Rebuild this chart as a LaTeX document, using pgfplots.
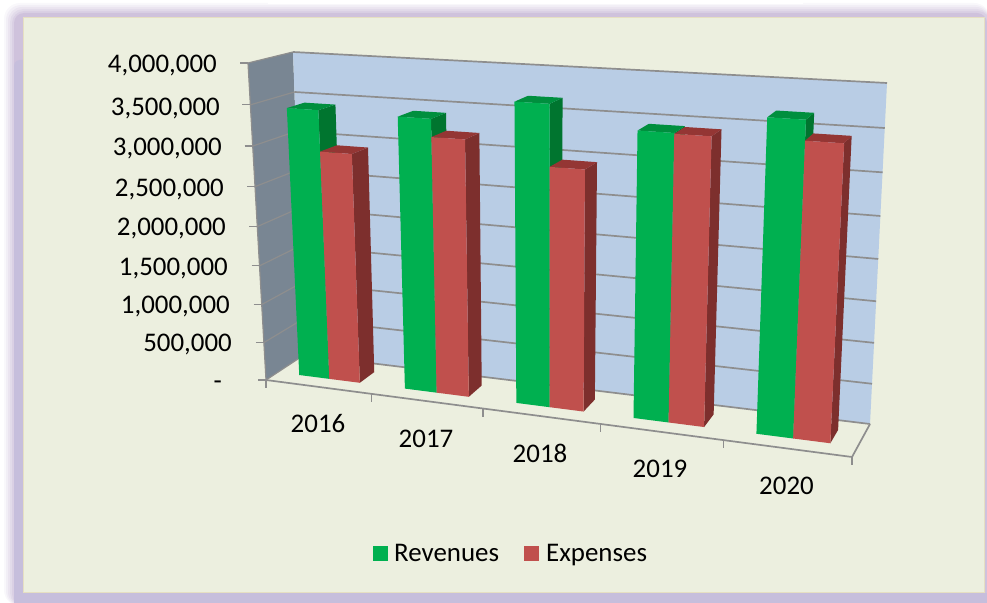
\documentclass[border=0pt]{standalone}
\usepackage{fontspec}
\setmainfont{Carlito}
\usepackage{pgfplots}
\pgfplotsset{compat=1.18}

\definecolor{panel}{HTML}{ECEFDF}
\definecolor{panelline}{HTML}{E6DFC2}
\definecolor{halo}{HTML}{C6BEDC}
\definecolor{halotop}{HTML}{CFC2DC}
\definecolor{backwall}{HTML}{B9CDE5}
\definecolor{sidewall}{HTML}{798693}
\definecolor{gridc}{HTML}{8E8E8E}
\definecolor{revF}{HTML}{00B050}
\definecolor{revS}{HTML}{00752F}
\definecolor{revT}{HTML}{008F3E}
\definecolor{expF}{HTML}{C0504D}
\definecolor{expS}{HTML}{7D2F2D}
\definecolor{expT}{HTML}{943634}

% box corners in image pixels, u = 0..5 along categories, d = 0..1 into the
% chart, v = value in thousands; the warps stand in for the perspective
\newcommand{\proj}[3]{%
  \pgfmathsetmacro\Pt{(#1)/5}%
  \pgfmathsetmacro\Pu{\Pt-0.124*\Pt*(1-\Pt)}%
  \pgfmathsetmacro\Pv{(#3)/4000}%
  \pgfmathsetmacro\Pw{\Pv-0.064*\Pv*(1-\Pv)}%
  \pgfmathsetmacro\Pd{#2}%
  % floor and ceiling of the box
  \pgfmathsetmacro\Bx{(1-\Pu)*((1-\Pd)*266+\Pd*304)+\Pu*((1-\Pd)*852+\Pd*870)}%
  \pgfmathsetmacro\By{(1-\Pu)*((1-\Pd)*380+\Pd*355)+\Pu*((1-\Pd)*457+\Pd*424)}%
  \pgfmathsetmacro\Tx{(1-\Pu)*((1-\Pd)*248+\Pd*293)+\Pu*((1-\Pd)*870+\Pd*887)}%
  \pgfmathsetmacro\Ty{(1-\Pu)*((1-\Pd)*63+\Pd*52)+\Pu*((1-\Pd)*99+\Pd*83)}%
  \pgfmathsetmacro\Px{(1-\Pw)*\Bx+\Pw*\Tx}%
  \pgfmathsetmacro\Py{(1-\Pw)*\By+\Pw*\Ty}%
}
\newcommand{\addpt}[3]{\proj{#1}{#2}{#3}\xdef\plist{\plist (\Px,\Py)}}
\newcommand{\quadface}[5]{%
  \gdef\plist{}\addpt#2\addpt#3\addpt#4\addpt#5%
  \edef\tmpplot{\noexpand\addplot[#1,draw=none] coordinates {\plist};}\tmpplot}
\newcommand{\gline}[3]{%
  \gdef\plist{}\addpt#2\addpt#3%
  \edef\tmpplot{\noexpand\addplot[#1] coordinates {\plist};}\tmpplot}
% value line with a stub to the left of the front edge
\newcommand{\valueline}[1]{%
  \proj{0}{0}{#1}\pgfmathsetmacro\Sx{\Px-8}%
  \edef\tmpplot{\noexpand\addplot[gridc,line width=1.2bp] coordinates {(\Sx,\Py) (\Px,\Py)};}\tmpplot
  \gline{gridc,line width=1.2bp}{{0}{0}{#1}}{{0}{1}{#1}}%
  \gline{gridc,line width=1.7bp}{{0}{1}{#1}}{{5}{1}{#1}}}
\newcommand{\xstub}[1]{%
  \proj{#1}{0}{0}\pgfmathsetmacro\Sy{\Py+8}%
  \edef\tmpplot{\noexpand\addplot[gridc,line width=1.3bp] coordinates {(\Px,\Py) (\Px,\Sy)};}\tmpplot}
% #1 category, #2 #3 left and right edge in the slot, #4 value, #5 colour stem
\newcommand{\cube}[5]{%
  \def\dA{0.31}\def\dB{0.72}%
  \quadface{fill=#5S}{{#1+#3}{\dA}{0}}{{#1+#3}{\dB}{0}}{{#1+#3}{\dB}{#4}}{{#1+#3}{\dA}{#4}}%
  \quadface{fill=#5T}{{#1+#2}{\dA}{#4}}{{#1+#3}{\dA}{#4}}{{#1+#3}{\dB}{#4}}{{#1+#2}{\dB}{#4}}%
  \quadface{fill=#5F}{{#1+#2}{\dA}{0}}{{#1+#3}{\dA}{0}}{{#1+#3}{\dA}{#4}}{{#1+#2}{\dA}{#4}}}
\newcommand{\yearbars}[3]{%
  \cube{#1}{0.21}{0.50}{#2}{rev}%
  \cube{#1}{0.50}{0.79}{#3}{exp}}

\tikzset{lab/.style={font=\fontsize{27}{30}\selectfont,inner sep=0pt,text=black}}

\begin{document}
\begin{tikzpicture}
\begin{axis}[
    hide axis, scale only axis, clip=false,
    width=987bp, height=603bp,
    xmin=0, xmax=987, ymin=0, ymax=603, y dir=reverse,
]
% soft frame around the panel
\path[use as bounding box] (axis cs:0,0) rectangle (axis cs:987,603);
\fill[halotop,opacity=0.12,rounded corners=16bp] (axis cs:4,3) rectangle (axis cs:990,606);
\fill[halotop,opacity=0.16,rounded corners=15bp] (axis cs:6,5) rectangle (axis cs:990,606);
\fill[halotop,opacity=0.22,rounded corners=14bp] (axis cs:8,7) rectangle (axis cs:990,606);
\fill[halotop,opacity=0.3,rounded corners=13bp] (axis cs:10,9) rectangle (axis cs:990,606);
\fill[halotop,opacity=0.45,rounded corners=12bp] (axis cs:12,11) rectangle (axis cs:990,606);
\fill[halotop,rounded corners=10bp] (axis cs:14,13) rectangle (axis cs:987,603);
\fill[halo,rounded corners=6bp] (axis cs:14,60) rectangle (axis cs:40,603);
\fill[halo] (axis cs:14,593) rectangle (axis cs:987,603);
\fill[white] (axis cs:268,0) rectangle (axis cs:803,4);
\filldraw[fill=panel,draw=panelline,line width=1bp] (axis cs:23,18) rectangle (axis cs:984,592);

% walls
\quadface{fill=sidewall}{{0}{0}{0}}{{0}{1}{0}}{{0}{1}{4000}}{{0}{0}{4000}}
\quadface{fill=backwall}{{0}{1}{0}}{{5}{1}{0}}{{5}{1}{4000}}{{0}{1}{4000}}
\valueline{4000}
\valueline{3500}
\valueline{3000}
\valueline{2500}
\valueline{2000}
\valueline{1500}
\valueline{1000}
\valueline{500}
\valueline{0}
\gline{gridc,line width=1.2bp}{{0}{0}{0}}{{0}{0}{4000}}
\gline{gridc,line width=1.7bp}{{0}{0}{0}}{{5}{0}{0}}
\gline{gridc,line width=1.7bp}{{5}{0}{0}}{{5}{1}{0}}
\xstub{0}
\xstub{1}
\xstub{2}
\xstub{3}
\xstub{4}
\xstub{5}

% values in thousands: year slot, Revenues, Expenses
\yearbars{0}{3430}{2925}
\yearbars{1}{3416}{3200}
\yearbars{2}{3680}{2950}
\yearbars{3}{3440}{3430}
\yearbars{4}{3680}{3450}

% value labels
\node[lab,anchor=base east] at (axis cs:217,72.5) {4,000,000};
\node[lab,anchor=base east] at (axis cs:220,115) {3,500,000};
\node[lab,anchor=base east] at (axis cs:222,155) {3,000,000};
\node[lab,anchor=base east] at (axis cs:224,196.5) {2,500,000};
\node[lab,anchor=base east] at (axis cs:226,235.5) {2,000,000};
\node[lab,anchor=base east] at (axis cs:228,275) {1,500,000};
\node[lab,anchor=base east] at (axis cs:230,313) {1,000,000};
\node[lab,anchor=base east] at (axis cs:232,351.5) {500,000};
\node[lab,anchor=base east] at (axis cs:222,389) {-};

% category labels
\node[lab,anchor=base] at (axis cs:318,432.5) {2016};
\node[lab,anchor=base] at (axis cs:426,447.5) {2017};
\node[lab,anchor=base] at (axis cs:540,462) {2018};
\node[lab,anchor=base] at (axis cs:660,477.5) {2019};
\node[lab,anchor=base] at (axis cs:786.5,494.5) {2020};

% legend
\fill[revF] (axis cs:373,546) rectangle (axis cs:388,561);
\fill[expF] (axis cs:524,546) rectangle (axis cs:539,561);
\node[lab,anchor=base west] at (axis cs:394,561) {Revenues};
\node[lab,anchor=base west] at (axis cs:546,561) {Expenses};
\end{axis}
\end{tikzpicture}
\end{document}
